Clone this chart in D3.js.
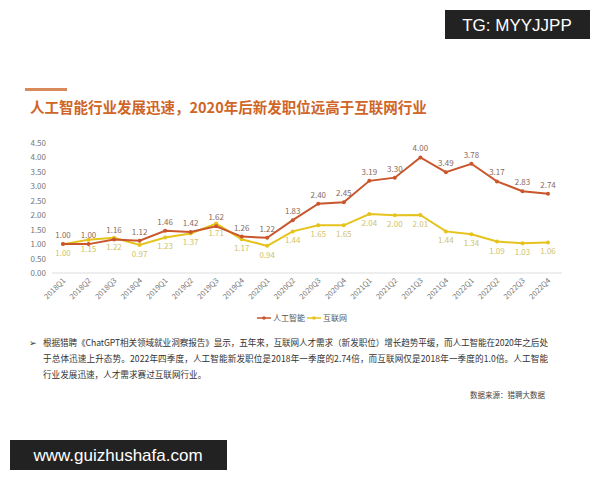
<!DOCTYPE html><html><head><meta charset="utf-8"><script src="https://cdn.jsdelivr.net/npm/d3@7"></script>
<style>body{margin:0;background:#fff}text{font-family:"Noto Sans CJK SC","Noto Sans",sans-serif}text.wm{font-family:"Liberation Sans",sans-serif}</style></head><body>
<svg id="c" width="600" height="480"></svg>
<script>
const categories=["2018Q1","2018Q2","2018Q3","2018Q4","2019Q1","2019Q2","2019Q3","2019Q4","2020Q1","2020Q2","2020Q3","2020Q4","2021Q1","2021Q2","2021Q3","2021Q4","2022Q1","2022Q2","2022Q3","2022Q4"];
const aiValues=[1.00,1.00,1.16,1.12,1.46,1.42,1.62,1.26,1.22,1.83,2.40,2.45,3.19,3.30,4.00,3.49,3.78,3.17,2.83,2.74];
const netValues=[1.00,1.15,1.22,0.97,1.23,1.37,1.71,1.17,0.94,1.44,1.65,1.65,2.04,2.00,2.01,1.44,1.34,1.09,1.03,1.06];
const yTicks=[0,0.5,1,1.5,2,2.5,3,3.5,4,4.5];
const seriesNames=["人工智能","互联网"];
const svg=d3.select("#c");
const aiC="#c9562c",netC="#e6c31c";
svg.append("rect").attr("x",25).attr("y",88).attr("width",42).attr("height",3).attr("fill","#d98a5a");
svg.append("text").attr("x",30).attr("y",113).attr("font-size",14.5).attr("font-weight","bold").attr("fill","#cf6526").text("人工智能行业发展迅速，2020年后新发职位远高于互联网行业");
const x=d3.scalePoint().domain(categories).range([63,548]);
const y=d3.scaleLinear().domain([0,4.5]).range([273,143]);
svg.append("line").attr("x1",52).attr("x2",562).attr("y1",y(0)).attr("y2",y(0)).attr("stroke","#ddd");
yTicks.forEach(t=>svg.append("text").attr("x",46).attr("y",y(t)+3).attr("text-anchor","end").attr("font-size",8).attr("fill","#777").text(t.toFixed(2)));
categories.forEach(c=>svg.append("text").attr("transform",`translate(${x(c)+3},${281}) rotate(-45)`).attr("text-anchor","end").attr("font-size",7.5).attr("fill","#777").text(c));
function draw(vals,col,lab,dy){
 svg.append("path").datum(vals).attr("fill","none").attr("stroke",col).attr("stroke-width",2)
  .attr("d",d3.line().x((d,i)=>x(categories[i])).y(d=>y(d)));
 vals.forEach((v,i)=>{svg.append("circle").attr("cx",x(categories[i])).attr("cy",y(v)).attr("r",2).attr("fill",col);
  svg.append("text").attr("x",x(categories[i])).attr("y",y(v)+dy).attr("text-anchor","middle").attr("font-size",8).attr("fill",lab).text(v.toFixed(2));});
}
draw(netValues,netC,"#cfc36a",12);
draw(aiValues,aiC,"#8a6a5a",-6);
const lg=svg.append("g");
[[0,aiC],[1,netC]].forEach(([i,col])=>{const lx=257+i*50;
 lg.append("line").attr("x1",lx).attr("x2",lx+14).attr("y1",318).attr("y2",318).attr("stroke",col).attr("stroke-width",1.5);
 lg.append("circle").attr("cx",lx+7).attr("cy",318).attr("r",1.8).attr("fill",col);
 lg.append("text").attr("x",lx+16).attr("y",321).attr("font-size",8).attr("fill","#555").text(seriesNames[i]);});
const para=["根据猎聘《ChatGPT相关领域就业洞察报告》显示，五年来，互联网人才需求（新发职位）增长趋势平缓，而人工智能在2020年之后处","于总体迅速上升态势。2022年四季度，人工智能新发职位是2018年一季度的2.74倍，而互联网仅是2018年一季度的1.0倍。人工智能","行业发展迅速，人才需求赛过互联网行业。"];
svg.append("text").attr("x",29).attr("y",346).attr("font-size",9).attr("fill","#333").text("➢");
para.forEach((p,i)=>svg.append("text").attr("x",43).attr("y",346+i*16).attr("font-size",8.6).attr("fill","#333").attr("textLength",i<2?505:null).text(p));
svg.append("text").attr("x",545).attr("y",398).attr("text-anchor","end").attr("font-size",7.5).attr("fill","#444").text("数据来源：猎聘大数据");
svg.append("rect").attr("x",445).attr("y",10).attr("width",145).attr("height",29).attr("fill","#222");
svg.append("text").attr("class","wm").attr("x",517).attr("y",31).attr("text-anchor","middle").attr("font-size",17).attr("fill","#fff").text("TG: MYYJJPP");
svg.append("rect").attr("x",10).attr("y",440).attr("width",217).attr("height",30).attr("fill","#222");
svg.append("text").attr("class","wm").attr("x",118).attr("y",461).attr("text-anchor","middle").attr("font-size",17).attr("fill","#fff").text("www.guizhushafa.com");
</script></body></html>
